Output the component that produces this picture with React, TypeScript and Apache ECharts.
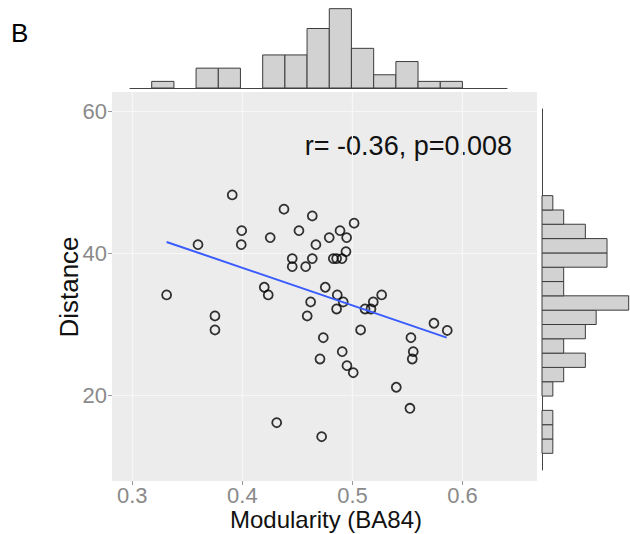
import React, { useEffect, useRef } from "react";
import * as echarts from "echarts";

// Scatter values
const xValues = [
  0.3908, 0.4378, 0.4635, 0.3994, 0.4514, 0.4887, 0.3597, 0.399, 0.4253, 0.4789,
  0.4947, 0.4668, 0.4941, 0.4453, 0.4635, 0.4826, 0.4856, 0.4453, 0.4575, 0.3312,
  0.4199, 0.4235, 0.4753, 0.4862, 0.462, 0.4916, 0.4856, 0.4589, 0.3751, 0.3751,
  0.5015, 0.4905, 0.5265, 0.5189, 0.5114, 0.5168, 0.5074, 0.574, 0.5861, 0.4735,
  0.4907, 0.4705, 0.495, 0.4312, 0.472, 0.5531, 0.5552, 0.5543, 0.5007, 0.5398,
  0.5522,
];
const yValues = [
  48.21, 46.2, 45.25, 43.18, 43.18, 43.18, 41.21, 41.21, 42.2, 42.2,
  42.2, 41.21, 40.23, 39.24, 39.24, 39.24, 39.24, 38.11, 38.11, 34.13,
  35.21, 34.13, 35.21, 34.13, 33.14, 33.14, 32.15, 31.17, 31.17, 29.2,
  44.23, 39.24, 34.13, 33.14, 32.15, 32.15, 29.2, 30.14, 29.13, 28.11,
  26.14, 25.11, 24.17, 16.14, 14.17, 28.11, 26.14, 25.11, 23.18, 21.13,
  18.17,
];

// Fitted line end points
const fitX = [0.3312, 0.5856];
const fitY = [41.59, 28.11];

// Top marginal histogram (Modularity)
const topBinEdges = [
  0.3176, 0.3378, 0.3579, 0.3781, 0.3982, 0.4184, 0.4386, 0.4587, 0.4789, 0.499,
  0.5192, 0.5394, 0.5595, 0.5797, 0.5998,
];
const topCounts = [1, 0, 3, 3, 0, 5, 5, 9, 12, 6, 2, 4, 1, 1];

// Right marginal histogram (Distance), bottom to top
const rightBinEdges = [
  11.83, 13.85, 15.86, 17.88, 19.89, 21.91, 23.93, 25.94, 27.96, 29.97,
  31.99, 34.01, 36.02, 38.04, 40.05, 42.07, 44.09, 46.1, 48.12,
];
const rightCounts = [1, 1, 1, 0, 1, 2, 4, 2, 4, 5, 8, 2, 2, 6, 6, 4, 2, 1];

const xTickLabels = [0.3, 0.4, 0.5, 0.6];
const yTickLabels = [20, 40, 60];

const FONT = "Liberation Sans, Arial, sans-serif";

export default function App() {
  const ref = useRef<HTMLDivElement>(null);

  useEffect(() => {
    if (!ref.current) return;
    const chart = echarts.init(ref.current, null, { renderer: "svg" });

    const scatterData = xValues.map((x, i) => [x, yValues[i]]);
    const fitData = fitX.map((x, i) => [x, fitY[i]]);
    const topData = topCounts
      .map((c, i) => [topBinEdges[i], topBinEdges[i + 1], c])
      .filter((d) => d[2] > 0);
    const rightData = rightCounts
      .map((c, i) => [rightBinEdges[i], rightBinEdges[i + 1], c])
      .filter((d) => d[2] > 0);

    const barStyle = { fill: "#d2d2d2", stroke: "#3c3c3c", lineWidth: 1 };

    const option: any = {
      animation: false,
      backgroundColor: "#ffffff",
      textStyle: { fontFamily: FONT },
      grid: [
        {
          left: 112,
          top: 92,
          width: 425,
          height: 389,
          show: true,
          backgroundColor: "#ececec",
          borderWidth: 0,
        },
        { left: 130, top: 8, width: 377, height: 80 },
        { left: 542, top: 109, width: 88, height: 361 },
      ],
      xAxis: [
        {
          gridIndex: 0,
          type: "value",
          min: 0.2816,
          max: 0.6676,
          axisLine: { show: false },
          axisTick: {
            show: true,
            customValues: xTickLabels,
            length: 4,
            lineStyle: { color: "#9a9a9a" },
          },
          axisLabel: {
            customValues: xTickLabels,
            color: "#8a8a8a",
            fontSize: 22,
            margin: 3,
            fontFamily: FONT,
            formatter: (v: number) => v.toFixed(1),
          },
          splitLine: { show: true, lineStyle: { color: "#f7f7f7", width: 1.2 } },
        },
        {
          gridIndex: 1,
          type: "value",
          min: 0.2979,
          max: 0.6403,
          axisLine: { show: true, lineStyle: { color: "#444444", width: 1 } },
          axisTick: { show: false },
          axisLabel: { show: false },
          splitLine: { show: false },
        },
        {
          gridIndex: 2,
          type: "value",
          min: 0,
          max: 8.12,
          axisLine: { show: false },
          axisTick: { show: false },
          axisLabel: { show: false },
          splitLine: { show: false },
        },
      ],
      yAxis: [
        {
          gridIndex: 0,
          type: "value",
          min: 7.93,
          max: 62.7,
          axisLine: { show: false },
          axisTick: {
            show: true,
            customValues: yTickLabels,
            length: 4,
            lineStyle: { color: "#9a9a9a" },
          },
          axisLabel: {
            customValues: yTickLabels,
            color: "#8a8a8a",
            fontSize: 22,
            margin: 5,
            fontFamily: FONT,
          },
          splitLine: { show: true, lineStyle: { color: "#f7f7f7", width: 1.2 } },
        },
        {
          gridIndex: 1,
          type: "value",
          min: 0,
          max: 12.1,
          axisLine: { show: false },
          axisTick: { show: false },
          axisLabel: { show: false },
          splitLine: { show: false },
        },
        {
          gridIndex: 2,
          type: "value",
          min: 9.48,
          max: 60.32,
          axisLine: { show: true, lineStyle: { color: "#444444", width: 1 } },
          axisTick: { show: false },
          axisLabel: { show: false },
          splitLine: { show: false },
        },
      ],
      series: [
        {
          type: "scatter",
          xAxisIndex: 0,
          yAxisIndex: 0,
          data: scatterData,
          symbol: "circle",
          symbolSize: 9,
          itemStyle: {
            color: "rgba(0,0,0,0)",
            borderColor: "#000000",
            borderWidth: 1.8,
          },
          z: 3,
        },
        {
          type: "line",
          xAxisIndex: 0,
          yAxisIndex: 0,
          data: fitData,
          symbol: "none",
          lineStyle: { color: "#3a5cff", width: 2 },
          z: 4,
        },
        {
          type: "custom",
          xAxisIndex: 1,
          yAxisIndex: 1,
          data: topData,
          encode: { x: [0, 1], y: 2 },
          renderItem: (params: any, api: any) => {
            const p0 = api.coord([api.value(0), 0]);
            const p1 = api.coord([api.value(1), api.value(2)]);
            return {
              type: "rect",
              shape: { x: p0[0], y: p1[1], width: p1[0] - p0[0], height: p0[1] - p1[1] },
              style: barStyle,
            };
          },
        },
        {
          type: "custom",
          xAxisIndex: 2,
          yAxisIndex: 2,
          data: rightData,
          encode: { x: 2, y: [0, 1] },
          renderItem: (params: any, api: any) => {
            const p0 = api.coord([0, api.value(0)]);
            const p1 = api.coord([api.value(2), api.value(1)]);
            return {
              type: "rect",
              shape: { x: p0[0], y: p1[1], width: p1[0] - p0[0], height: p0[1] - p1[1] },
              style: barStyle,
            };
          },
        },
      ],
      graphic: [
        {
          type: "text",
          left: 11,
          top: 20,
          style: { text: "B", fontSize: 26, fill: "#000000", fontFamily: FONT },
        },
        {
          type: "text",
          x: 512,
          y: 146,
          style: {
            text: "r= -0.36, p=0.008",
            fontSize: 27,
            fill: "#111111",
            fontFamily: FONT,
            textAlign: "right",
            textVerticalAlign: "middle",
          },
        },
        {
          type: "text",
          x: 326,
          y: 519,
          style: {
            text: "Modularity (BA84)",
            fontSize: 24,
            fill: "#111111",
            fontFamily: FONT,
            textAlign: "center",
            textVerticalAlign: "middle",
          },
        },
        {
          type: "text",
          x: 69,
          y: 287,
          rotation: Math.PI / 2,
          style: {
            text: "Distance",
            fontSize: 26,
            fill: "#111111",
            fontFamily: FONT,
            textAlign: "center",
            textVerticalAlign: "middle",
          },
        },
      ],
    };

    chart.setOption(option);
    return () => chart.dispose();
  }, []);

  return (
    <div
      ref={ref}
      style={{ position: "fixed", left: 0, top: 0, width: 630, height: 534 }}
    />
  );
}
